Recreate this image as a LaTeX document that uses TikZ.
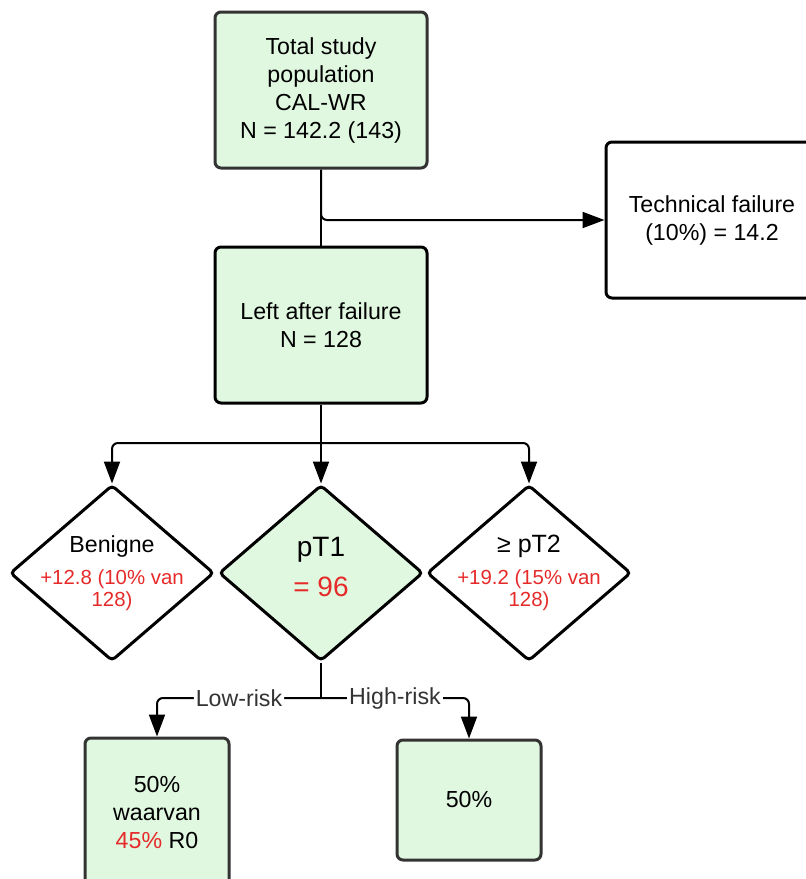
\documentclass[tikz,border=0pt]{standalone}
\usepackage{fontspec}
\setmainfont{Liberation Sans}
\usepackage{xcolor}
\usepackage{tikz}
\usetikzlibrary{shapes.geometric,arrows.meta}

\definecolor{boxgreen}{HTML}{E0F8E0}
\definecolor{alarm}{HTML}{E62A2A}
\definecolor{edgegray}{HTML}{333333}
\newcommand{\redline}[1]{{\fontsize{10.2}{11}\selectfont\color{alarm}#1}}

\begin{document}
\begin{tikzpicture}[x=0.5pt, y=-0.5pt,
    every node/.style={font=\fontsize{11.6}{14}\selectfont, align=center},
    greenbox/.style={draw=edgegray, fill=boxgreen, line width=1.5pt, rounded corners=3pt,
        minimum width=106pt, minimum height=78pt},
    whitebox/.style={draw=black, fill=white, line width=1.5pt, rounded corners=3pt,
        minimum width=106pt, minimum height=78pt},
    decision/.style={diamond, draw=black, fill=white, line width=1.5pt, rounded corners=2pt,
        minimum width=102pt, minimum height=88pt, inner sep=0pt},
    conn/.style={line width=1pt, rounded corners=3pt},
    arrow/.style={conn, -{Triangle[length=11pt,width=8pt]}},
    risk/.style={fill=white, text=edgegray, inner sep=1pt}
]
    \useasboundingbox (0,0) rectangle (806,879);

    % Population and failure boxes
    \node[greenbox] (total) at (321,90) {Total study\\population\\CAL-WR\\N = 142.2 (143)};
    \node[whitebox] (tech) at (712,220) {Technical failure\\(10\%) = 14.2};
    \node[greenbox, draw=black] (left) at (321,325) {Left after failure\\N = 128};

    % Pathology outcomes
    \node[decision] (benigne) at (112,573) {};
    \node (benignetxt) at (benigne) {Benigne\\[2pt]\redline{+12.8 (10\% van}\\[-3pt]\redline{128)}};
    \node[decision, fill=boxgreen] (pt1) at (321,573) {};
    \node[font=\fontsize{14}{17}\selectfont] (pt1txt) at ([yshift=3pt]pt1) {pT1\\[3pt]\textcolor{alarm}{= 96}};
    \node[decision] (pt2) at (529,573) {};
    \node (pt2txt) at (pt2) {{\fontsize{12.5}{14}\selectfont ≥ pT2}\\[2pt]\redline{+19.2 (15\% van}\\[-3pt]\redline{128)}};

    % Risk groups
    \node[greenbox, minimum width=72pt, minimum height=75pt] (low) at (157,813)
        {50\%\\waarvan\\\textcolor{alarm}{45\%} R0};
    \node[greenbox, minimum width=72pt, minimum height=60pt] (high) at (469,800) {50\%};

    % Connectors
    \coordinate (split1) at (321,443);
    \coordinate (split2) at (321,698);
    \draw[conn] (total.south) -- (left.north);
    \draw[arrow] (total.south) -- (total.south |- tech.west) -- (tech.west);
    \draw[conn] (left.south) -- (split1);
    \draw[arrow] (split1) -| (benigne.north);
    \draw[arrow] (split1) -- (pt1.north);
    \draw[arrow] (split1) -| (pt2.north);
    \draw[conn] (pt1.south) -- (split2);
    \draw[arrow] (split2) -| node[risk, pos=0.25] (lowlbl) {Low-risk} (low.north);
    \draw[arrow] (split2) -| node[risk, pos=0.25] (highlbl) {High-risk} (high.north);
\end{tikzpicture}
\end{document}
